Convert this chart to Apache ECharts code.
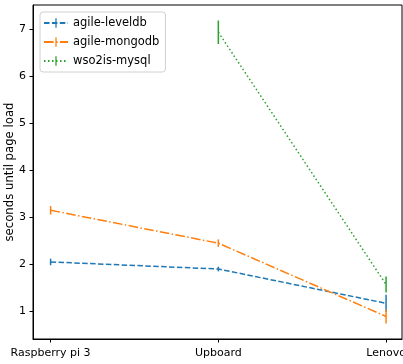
<!DOCTYPE html>
<html>
<head>
<meta charset="utf-8">
<script src="https://cdn.jsdelivr.net/npm/echarts@6/dist/echarts.min.js"></script>
<style>
  html, body { margin: 0; padding: 0; background: #fff; }
  #main { width: 403px; height: 364px; }
</style>
</head>
<body>
<div id="main"></div>
<script>
// devices on the x axis
const categories = ['Raspberry pi 3', 'Upboard', 'Lenovo'];
const seriesNames = ['agile-leveldb', 'agile-mongodb', 'wso2is-mysql'];
// mean seconds until page load, and error
const leveldb = [2.04, 1.89, 1.16];
const leveldbErr = [0.07, 0.05, 0.18];
const mongodb = [3.14, 2.44, 0.88];
const mongodbErr = [0.09, 0.08, 0.15];
const mysql = [null, 6.93, 1.56];
const mysqlErr = [null, 0.25, 0.17];
const yTicks = [1, 2, 3, 4, 5, 6, 7];

const colors = ['#1f77b4', '#ff7f0e', '#2ca02c'];
const dashes = [[5.5, 2.4], [9.6, 2.4, 1.5, 2.4], [1.5, 2.5]];

const toPoints = (vals) => vals.map((v, i) => [i, v]).filter(p => p[1] != null);
const toErr = (vals, errs) => vals.map((v, i) => [i, v, errs[i]]).filter(p => p[1] != null);

// square box, thin vertical bar in the middle (legend icon)
const barIcon = 'path://M0,5L0,5M12,5L12,5M5.2,0h1.6v12h-1.6z';

const lineSeries = (name, vals, k) => ({
  name: name,
  type: 'line',
  data: toPoints(vals),
  symbol: barIcon,
  showSymbol: false,
  lineStyle: { color: colors[k], width: 1.5, type: dashes[k] },
  itemStyle: { color: colors[k] },
  z: 2
});

const errSeries = (vals, errs, k) => ({
  name: seriesNames[k] + '-err',
  type: 'custom',
  data: toErr(vals, errs),
  z: 3,
  renderItem: function (params, api) {
    const x = api.value(0), y = api.value(1), e = api.value(2);
    const p1 = api.coord([x, y - e]);
    const p2 = api.coord([x, y + e]);
    return {
      type: 'line',
      shape: { x1: p1[0], y1: p1[1], x2: p2[0], y2: p2[1] },
      style: { stroke: colors[k], lineWidth: 1.5 }
    };
  }
});

var myChart = echarts.init(document.getElementById('main'));
var option = {
  animation: false,
  textStyle: { fontFamily: 'DejaVu Sans' },
  grid: {
    left: 33, right: 1, top: 5, bottom: 25,
    outerBoundsMode: 'none',
    containLabel: false,
    show: true, borderColor: '#000', borderWidth: 1
  },
  legend: {
    data: seriesNames,
    orient: 'vertical',
    left: 40, top: 12,
    itemWidth: 24, itemHeight: 12, itemGap: 7,
    padding: [5, 6, 5, 3],
    borderColor: '#d0d0d0', borderWidth: 1, borderRadius: 3,
    backgroundColor: 'rgba(255,255,255,0.8)',
    textStyle: { fontSize: 11.5, color: '#000', fontFamily: 'DejaVu Sans' }
  },
  xAxis: {
    type: 'value',
    min: -0.105, max: 2.095,
    splitLine: { show: false },
    axisLine: { show: true, onZero: false, lineStyle: { color: '#000' } },
    axisTick: { show: true, length: 3.5, customValues: [0, 1, 2], lineStyle: { color: '#000' } },
    axisLabel: {
      customValues: [0, 1, 2],
      margin: 9,
      fontSize: 11, color: '#000',
      formatter: v => categories[Math.round(v)]
    }
  },
  yAxis: {
    type: 'value',
    min: 0.4, max: 7.51,
    name: 'seconds until page load',
    nameLocation: 'middle',
    nameGap: 17,
    nameMoveOverlap: false,
    nameTextStyle: { fontSize: 11.7, color: '#000' },
    splitLine: { show: false },
    axisLine: { show: true, onZero: false, lineStyle: { color: '#000' } },
    axisTick: { show: true, length: 3.5, customValues: yTicks, lineStyle: { color: '#000' } },
    axisLabel: { customValues: yTicks, margin: 7, fontSize: 11, color: '#000' }
  },
  series: [
    lineSeries(seriesNames[0], leveldb, 0),
    lineSeries(seriesNames[1], mongodb, 1),
    lineSeries(seriesNames[2], mysql, 2),
    errSeries(leveldb, leveldbErr, 0),
    errSeries(mongodb, mongodbErr, 1),
    errSeries(mysql, mysqlErr, 2)
  ]
};
option && myChart.setOption(option, true);
</script>
</body>
</html>
